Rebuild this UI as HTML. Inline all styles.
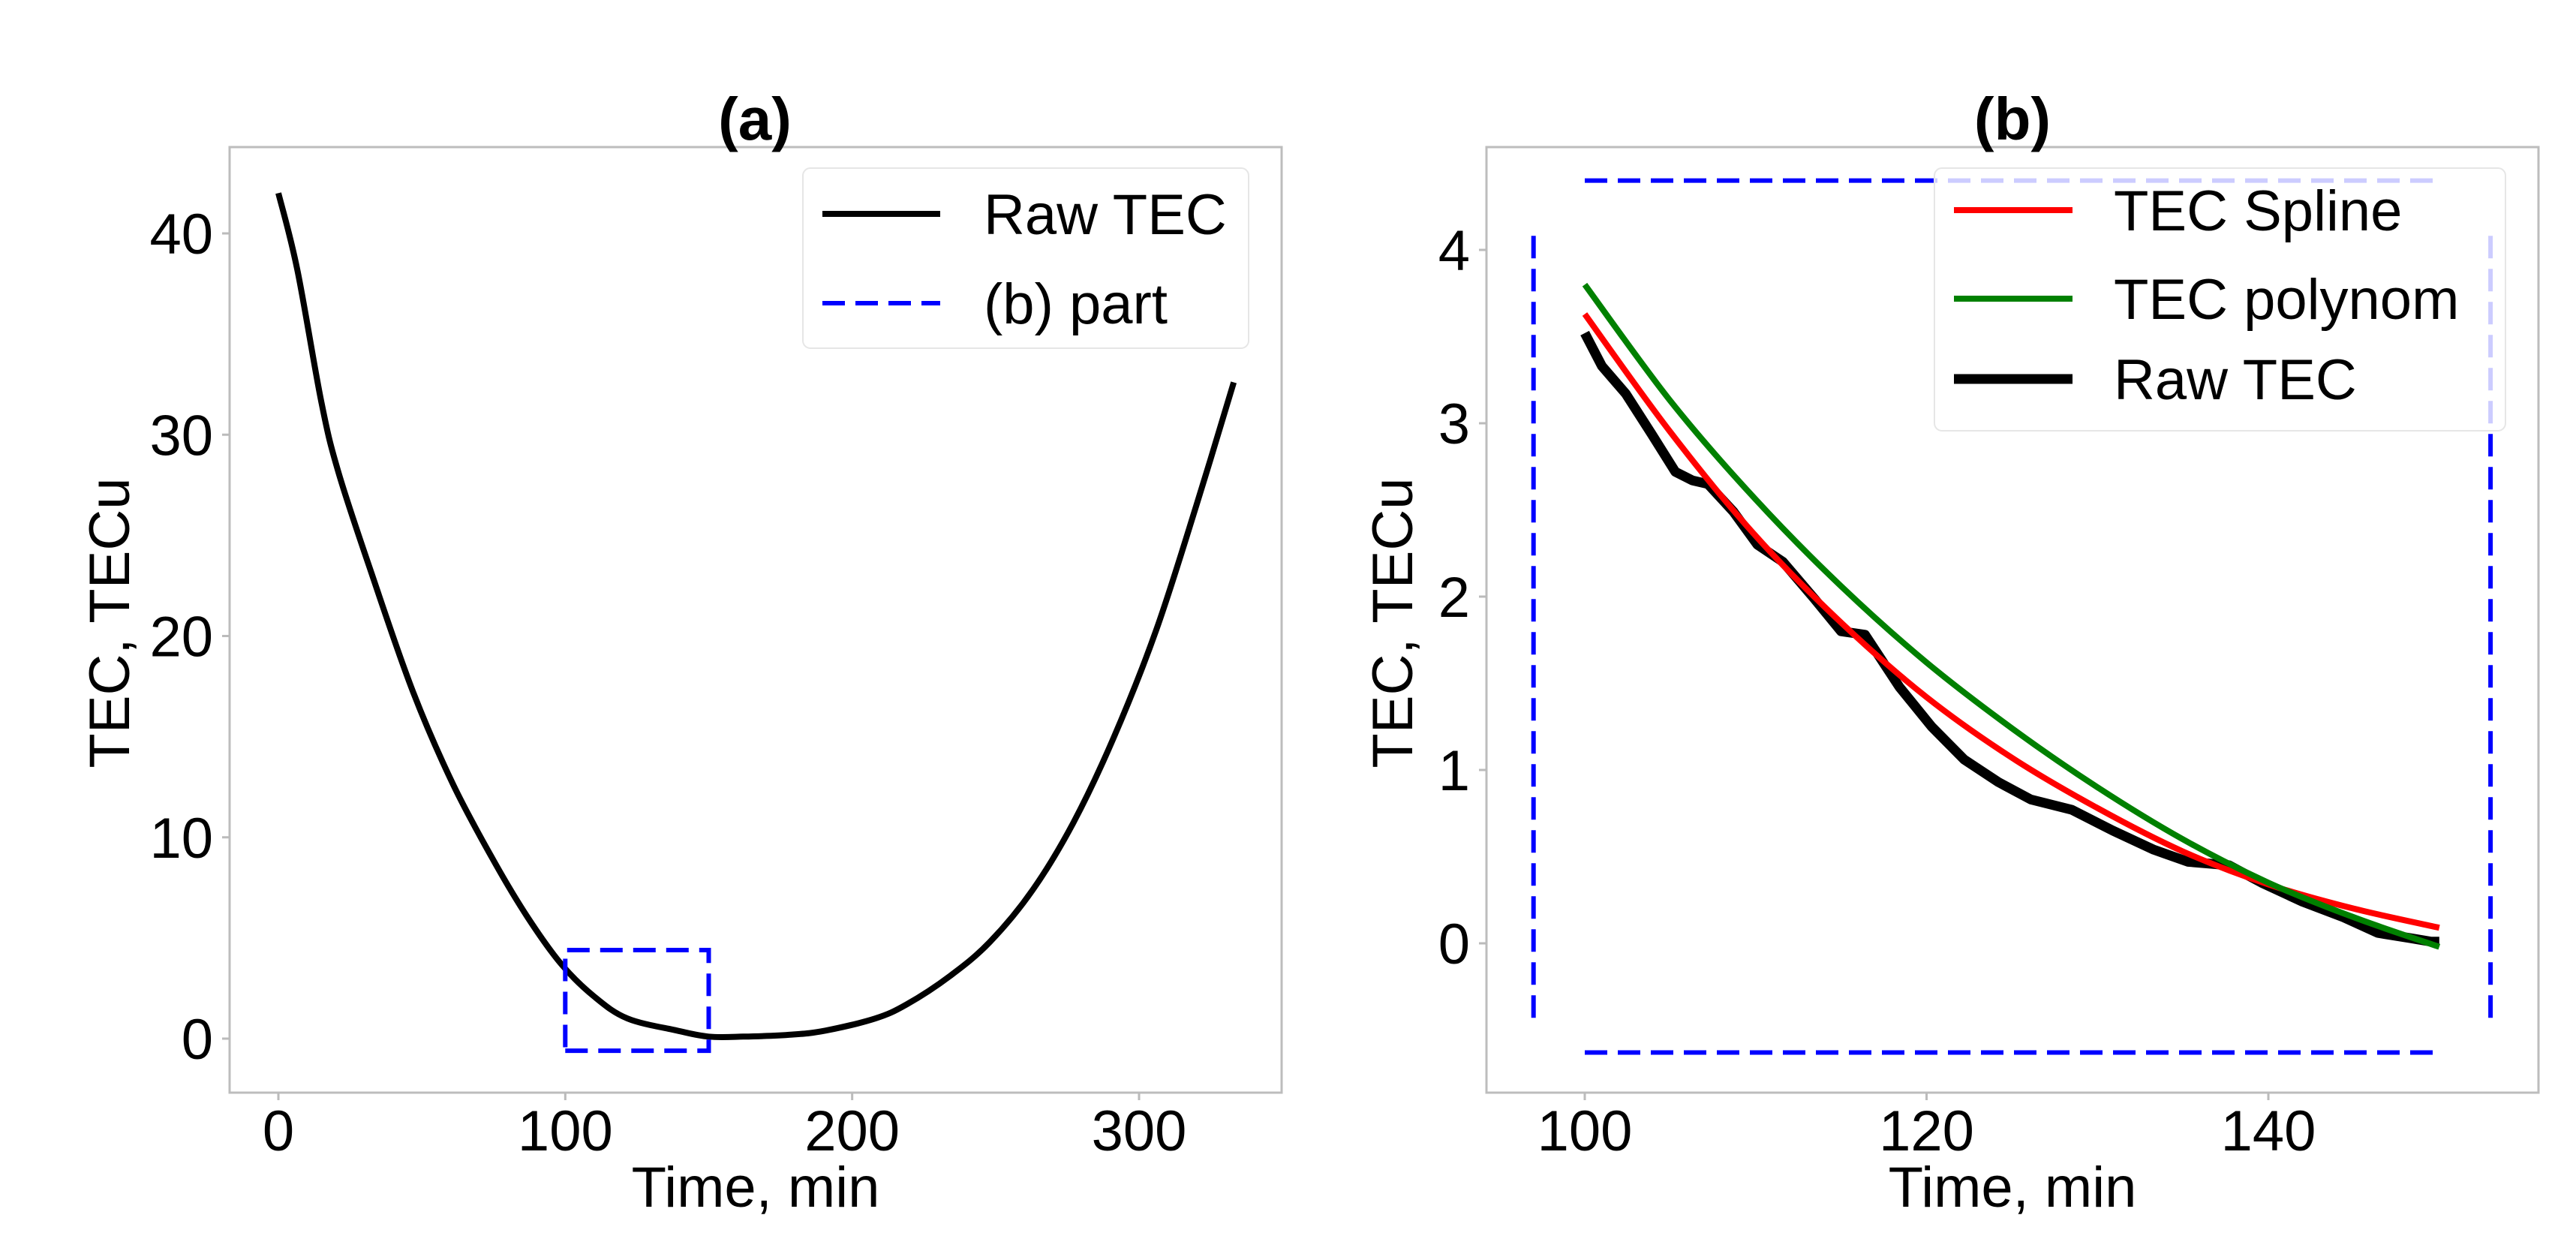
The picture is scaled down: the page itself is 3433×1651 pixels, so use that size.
<!DOCTYPE html>
<html><head><meta charset="utf-8"><style>
html,body{margin:0;padding:0;background:#fff;}
svg{display:block;font-family:"Liberation Sans","DejaVu Sans",sans-serif;}
</style></head><body>
<svg id="fig" width="3433" height="1651" viewBox="0 0 3433 1651" xmlns="http://www.w3.org/2000/svg">
<rect width="3433" height="1651" fill="#fff"/>
<g id="pa"></g>
<g id="pb"></g>
</svg>
<script>
// Panel (a) data
const aTime = [0,6.6,15,21,32.5,47,61,75.6,87,98.6,110,121.7,139,150,162,179,190.7,208,219,234,248,263,277,291,306,320,333];
const aTec = [42,38.2,31.6,28.1,23.1,17.2,12.6,8.7,6.0,3.7,2.1,1.0,0.4,0.1,0.1,0.2,0.4,1.0,1.7,3.1,4.8,7.4,10.7,14.9,20.3,26.5,32.6];
const aXTicks = [0,100,200,300];
const aYTicks = [0,10,20,30,40];
const partBox = [100,150,-0.6,4.4];
// Panel (b) data
const bRawTime = [100,101,102.4,103.9,105.3,106.3,107.2,108.7,110.1,111.6,113.5,115,116.4,118.4,120.3,122.2,124.2,126.1,128.5,130.9,133.3,135.3,137.7,139.6,142,144.4,146.4,148.3,149.5,150];
const bRawTec = [3.52,3.33,3.17,2.94,2.72,2.67,2.65,2.49,2.3,2.2,1.98,1.8,1.78,1.48,1.25,1.06,0.93,0.83,0.77,0.65,0.54,0.47,0.45,0.35,0.24,0.15,0.06,0.03,0.01,0.01];
const bFitTime = [100,105,110,115,120,125,130,135,140,145,150];
const bSpline = [3.63,2.95,2.35,1.85,1.42,1.07,0.78,0.53,0.34,0.2,0.09];
const bPoly = [3.8,3.13,2.56,2.06,1.62,1.24,0.9,0.6,0.35,0.15,-0.02];
const bXTicks = [100,120,140];
const bYTicks = [0,1,2,3,4];
const bTopDash = [100,150,4.4];
const bBotDash = [100,150,-0.63];
const bLeftDash = [97,-0.43,4.1];
const bRightDash = [153,-0.43,4.1];

const NS="http://www.w3.org/2000/svg";
function mk(p,tag,at,txt){const e=document.createElementNS(NS,tag);for(const k in at)e.setAttribute(k,at[k]);if(txt!==undefined)e.textContent=txt;p.appendChild(e);return e;}
function lin(d0,d1,r0,r1){return v=>r0+(v-d0)/(d1-d0)*(r1-r0);}
function pathD(xs,ys,sx,sy){return xs.map((x,i)=>(i?'L':'M')+sx(x).toFixed(1)+','+sy(ys[i]).toFixed(1)).join(' ');}
function smoothD(xs,ys,sx,sy){
  const P=xs.map((x,i)=>[sx(x),sy(ys[i])]);
  let d='M'+P[0][0].toFixed(1)+','+P[0][1].toFixed(1);
  for(let i=0;i<P.length-1;i++){
    const p0=P[Math.max(0,i-1)],p1=P[i],p2=P[i+1],p3=P[Math.min(P.length-1,i+2)];
    const c1=[p1[0]+(p2[0]-p0[0])/6,p1[1]+(p2[1]-p0[1])/6];
    const c2=[p2[0]-(p3[0]-p1[0])/6,p2[1]-(p3[1]-p1[1])/6];
    d+=' C'+c1.map(v=>v.toFixed(1)).join(',')+' '+c2.map(v=>v.toFixed(1)).join(',')+' '+p2.map(v=>v.toFixed(1)).join(',');
  }
  return d;
}

function axes(g,box,sx,sy,xt,yt,title,tcx,ylx){
  let e=mk(g,'rect',{x:box[0],y:box[1],width:box[2]-box[0],height:box[3]-box[1],fill:'none',stroke:'#bdbdbd','stroke-width':3});
  
  
  xt.forEach(v=>{const x=sx(v);
    let t=mk(g,'line',{x1:x,x2:x,y1:box[3],y2:box[3]+10,stroke:'#bbb','stroke-width':3});
    
    
    let l=mk(g,'text',{x:x,y:1533,'font-size':76,'text-anchor':'middle',fill:'#000'},String(v));
    
    });
  yt.forEach(v=>{const y=sy(v);
    let t=mk(g,'line',{x1:box[0]-10,x2:box[0],y1:y,y2:y,stroke:'#bbb','stroke-width':3});
    
    
    let l=mk(g,'text',{x:box[0]-22,y:y+27,'font-size':76,'text-anchor':'end',fill:'#000'},String(v));
    
    });
  let ti=mk(g,'text',{x:tcx,y:186,'font-size':80,'font-weight':'bold','text-anchor':'middle'},title);
  
  
  let xl=mk(g,'text',{x:(box[0]+box[2])/2,y:1608,'font-size':76,'text-anchor':'middle'},'Time, min');
  
  
  let yl=mk(g,'text',{x:0,y:0,'font-size':76,'text-anchor':'middle',transform:`translate(${ylx},830) rotate(-90)`},'TEC, TECu');
  
  
}
const dash={stroke:'#0000ff','stroke-width':6,'stroke-dasharray':'30 14',fill:'none'};

// Panel a
{const g=document.getElementById('pa');
 const box=[306,196,1708,1456];
 const sx=lin(0,300,371,1518), sy=lin(0,40,1384,311);
 axes(g,box,sx,sy,aXTicks,aYTicks,'(a)',1006,172);
 let r=mk(g,'path',{d:smoothD(aTime,aTec,sx,sy),stroke:'#000','stroke-width':8,fill:'none','stroke-linejoin':'round'});
 
 
 const bx=[partBox[0],partBox[1],partBox[1],partBox[0],partBox[0]], by=[partBox[2],partBox[2],partBox[3],partBox[3],partBox[2]];
 let p=mk(g,'path',Object.assign({d:pathD(bx,by,sx,sy)},dash));
 
 
 let lg=mk(g,'g',{});
 
 
 mk(lg,'rect',{x:1070,y:224,width:594,height:240,rx:10,fill:'#fff','fill-opacity':0.8,stroke:'#e6e6e6','stroke-width':2});
 mk(lg,'line',{x1:1096,x2:1253,y1:285,y2:285,stroke:'#000','stroke-width':8});
 mk(lg,'text',{x:1311,y:312,'font-size':76},'Raw TEC');
 mk(lg,'line',Object.assign({x1:1096,x2:1253,y1:404,y2:404},dash));
 mk(lg,'text',{x:1311,y:431,'font-size':76},'(b) part');
}
// Panel b
{const g=document.getElementById('pb');
 const box=[1981,196,3383,1456];
 const sx=lin(100,140,2112,3023), sy=lin(0,4,1257,333);
 axes(g,box,sx,sy,bXTicks,bYTicks,'(b)',2682,1882);
 const segs=[[[bTopDash[0],bTopDash[1]],[bTopDash[2],bTopDash[2]],'top'],[[bBotDash[0],bBotDash[1]],[bBotDash[2],bBotDash[2]],'bottom'],
   [[bLeftDash[0],bLeftDash[0]],[bLeftDash[1],bLeftDash[2]],'left'],[[bRightDash[0],bRightDash[0]],[bRightDash[1],bRightDash[2]],'right']];
 segs.forEach(s=>{let e=mk(g,'path',Object.assign({d:pathD(s[0],s[1],sx,sy)},dash));
   
   });
 let r=mk(g,'path',{d:pathD(bRawTime,bRawTec,sx,sy),stroke:'#000','stroke-width':13,fill:'none','stroke-linejoin':'round'});
 
 
 let s=mk(g,'path',{d:smoothD(bFitTime,bSpline,sx,sy),stroke:'#ff0000','stroke-width':8,fill:'none','stroke-linejoin':'round'});
 
 
 let q=mk(g,'path',{d:smoothD(bFitTime,bPoly,sx,sy),stroke:'#008000','stroke-width':8,fill:'none','stroke-linejoin':'round'});
 
 
 let lg=mk(g,'g',{});
 
 
 mk(lg,'rect',{x:2578,y:224,width:761,height:350,rx:10,fill:'#fff','fill-opacity':0.8,stroke:'#e6e6e6','stroke-width':2});
 mk(lg,'line',{x1:2604,x2:2762,y1:280,y2:280,stroke:'#ff0000','stroke-width':8});
 mk(lg,'text',{x:2817,y:307,'font-size':76},'TEC Spline');
 mk(lg,'line',{x1:2604,x2:2762,y1:398,y2:398,stroke:'#008000','stroke-width':8});
 mk(lg,'text',{x:2817,y:425,'font-size':76},'TEC polynom');
 mk(lg,'line',{x1:2604,x2:2762,y1:505,y2:505,stroke:'#000','stroke-width':13});
 mk(lg,'text',{x:2817,y:532,'font-size':76},'Raw TEC');
}
</script>
</body></html>
